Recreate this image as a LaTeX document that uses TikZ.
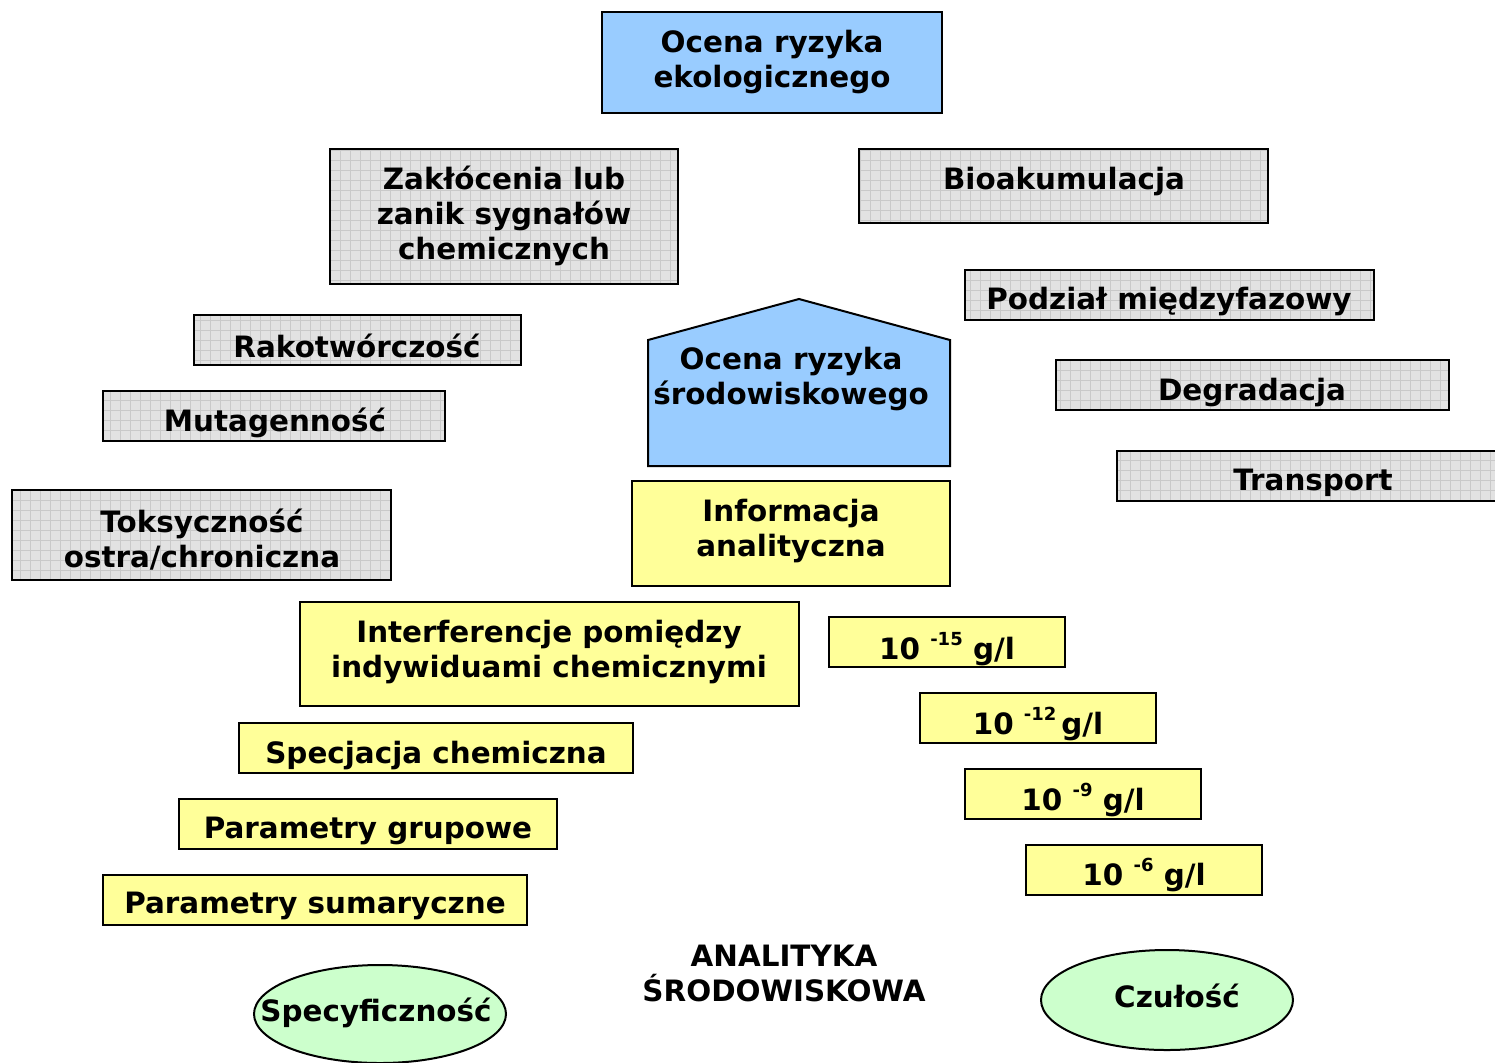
\documentclass[tikz,border=0pt]{standalone}
\usepackage{fontspec}
\setmainfont{DejaVu Sans}
\definecolor{gfill}{HTML}{E2E2E2}
\definecolor{gline}{HTML}{C9C9C9}
\definecolor{bfill}{HTML}{99CCFF}
\definecolor{yfill}{HTML}{FFFF99}
\definecolor{efill}{HTML}{CCFFCC}
\tikzset{
  graybox/.style={draw=black, line width=1pt, fill=gfill,
    path picture={\draw[gline, line width=0.5pt, step=5pt] (path picture bounding box.south west) grid (path picture bounding box.north east);}},
  bluebox/.style={draw=black, line width=1pt, fill=bfill},
  yelbox/.style={draw=black, line width=1pt, fill=yfill},
  ellbox/.style={draw=black, line width=1pt, fill=efill},
  lbl/.style={inner sep=0pt, align=center, yshift=-1pt, font=\fontsize{14.7}{17.5}\selectfont\bfseries},
}
\newcommand{\sexp}[1]{\raisebox{0.5em}{\fontsize{9}{10}\selectfont #1}}
\begin{document}
\begin{tikzpicture}[x=0.5pt,y=-0.5pt]
\useasboundingbox (0,0) rectangle (1495,1062);
% blue top
\draw[bluebox] (602,12) rectangle (942,113);
\node[lbl] (oek) at (772,60) {Ocena ryzyka\\ekologicznego};
% gray boxes
\draw[graybox] (330,149) rectangle (678,284);
\node[lbl] (zak) at (504,214) {Zakłócenia lub\\zanik sygnałów\\chemicznych};
\draw[graybox] (859,149) rectangle (1268,223);
\node[lbl] (bio) at (1064,179) {Bioakumulacja};
\draw[graybox] (965,270) rectangle (1374,320);
\node[lbl] (pod) at (1169,299) {Podział międzyfazowy};
\draw[graybox] (194,315) rectangle (521,365);
\node[lbl] (rak) at (357,344) {Rakotwórczość};
\draw[graybox] (103,391) rectangle (445,441);
\node[lbl] (mut) at (275,421) {Mutagenność};
\draw[graybox] (1056,360) rectangle (1449,410);
\node[lbl] (deg) at (1252,390) {Degradacja};
\draw[graybox] (1117,451) rectangle (1510,501);
\node[lbl] (tra) at (1313,481) {Transport};
\draw[graybox] (12,490) rectangle (391,580);
\node[lbl] (tok) at (202,538) {Toksyczność\\ostra/chroniczna};
% pentagon
\draw[bluebox] (648,466) -- (648,340) -- (799,299) -- (950,340) -- (950,466) -- cycle;
\node[lbl] (osr) at (791,377) {Ocena ryzyka\\środowiskowego};
% yellow boxes
\draw[yelbox] (632,481) rectangle (950,586);
\node[lbl] (inf) at (791,529) {Informacja\\analityczna};
\draw[yelbox] (300,602) rectangle (799,706);
\node[lbl] (int) at (549,650) {Interferencje pomiędzy\\indywiduami chemicznymi};
\draw[yelbox] (239,723) rectangle (633,773);
\node[lbl] (spe) at (436,753) {Specjacja chemiczna};
\draw[yelbox] (179,799) rectangle (557,849);
\node[lbl] (pgr) at (368,829) {Parametry grupowe};
\draw[yelbox] (103,875) rectangle (527,925);
\node[lbl] (psu) at (315,904) {Parametry sumaryczne};
\draw[yelbox] (829,617) rectangle (1065,667);
\node[lbl] (c15) at (947,647) {10 \sexp{-15} g/l};
\draw[yelbox] (920,693) rectangle (1156,743);
\node[lbl] (c12) at (1038,722) {10 \sexp{-12}\,g/l};
\draw[yelbox] (965,769) rectangle (1201,819);
\node[lbl] (c9) at (1083,798) {10 \sexp{-9} g/l};
\draw[yelbox] (1026,845) rectangle (1262,895);
\node[lbl] (c6) at (1144,873) {10 \sexp{-6} g/l};
% bottom
\node[lbl] (ana) at (784,971) {ANALITYKA\\ŚRODOWISKOWA};
\draw[ellbox] (380,1014) ellipse [x radius=126, y radius=49];
\node[lbl] (spc) at (376,1011) {Specyficzność};
\draw[ellbox] (1167,1000) ellipse [x radius=126, y radius=50];
\node[lbl] (czu) at (1177,994) {Czułość};
\end{tikzpicture}
\end{document}
